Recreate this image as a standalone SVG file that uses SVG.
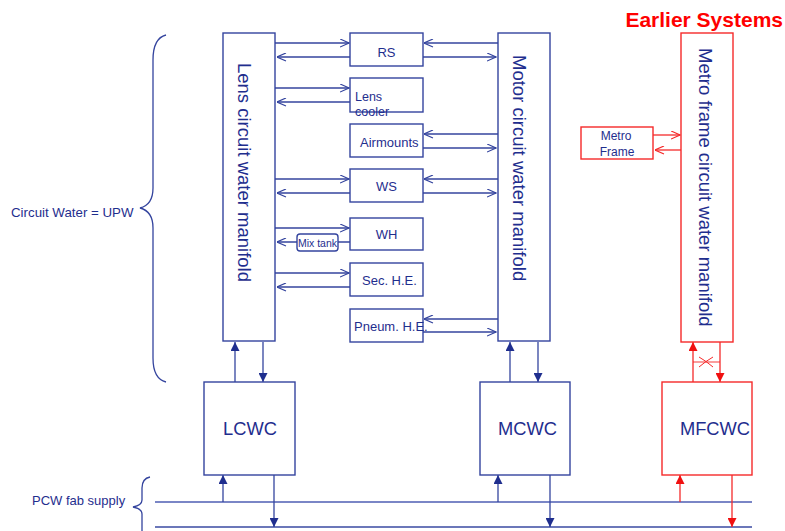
<svg xmlns="http://www.w3.org/2000/svg" width="785" height="531" viewBox="0 0 785 531">
<defs>
<style>
.b{fill:#fff;stroke:#34449e;stroke-width:1.4}
.r{fill:#fff;stroke:#f52a2a;stroke-width:1.4}
.ln{fill:none;stroke:#34449e;stroke-width:1.3}
.rl{fill:none;stroke:#f52a2a;stroke-width:1.3}
.t{font-family:"Liberation Sans",Arial,sans-serif;fill:#1f2e8e}
.oa{marker-end:url(#open)}
.fa{marker-end:url(#fill)}
.ra{marker-end:url(#rfill)}
</style>
<marker id="open" viewBox="0 0 10 10" refX="10" refY="5" markerWidth="10" markerHeight="9" markerUnits="userSpaceOnUse" orient="auto">
<path d="M0,0.5 L10,5 L0,9.5" fill="none" stroke="#34449e" stroke-width="1.3"/>
</marker>
<marker id="ropen" viewBox="0 0 10 10" refX="10" refY="5" markerWidth="10" markerHeight="9" markerUnits="userSpaceOnUse" orient="auto">
<path d="M0,0.5 L10,5 L0,9.5" fill="none" stroke="#f52a2a" stroke-width="1.3"/>
</marker>
<marker id="fill" viewBox="0 0 10 10" refX="10" refY="5" markerWidth="10" markerHeight="9" markerUnits="userSpaceOnUse" orient="auto">
<path d="M0,0 L10,5 L0,10 Z" fill="#1f2e8e"/>
</marker>
<marker id="rfill" viewBox="0 0 10 10" refX="10" refY="5" markerWidth="10" markerHeight="9" markerUnits="userSpaceOnUse" orient="auto">
<path d="M0,0 L10,5 L0,10 Z" fill="#f01010"/>
</marker>
</defs>
<rect width="785" height="531" fill="#fff"/>

<g id="connectors">
<line class="ln oa" x1="275" y1="43" x2="349" y2="43"/>
<line class="ln oa" x1="350" y1="57" x2="277" y2="57"/>
<line class="ln oa" x1="498" y1="43" x2="424" y2="43"/>
<line class="ln oa" x1="423" y1="57" x2="496" y2="57"/>
<line class="ln oa" x1="275" y1="88" x2="349" y2="88"/>
<line class="ln oa" x1="350" y1="102" x2="277" y2="102"/>
<line class="ln oa" x1="498" y1="134" x2="424" y2="134"/>
<line class="ln oa" x1="423" y1="148" x2="496" y2="148"/>
<line class="ln oa" x1="275" y1="179" x2="349" y2="179"/>
<line class="ln oa" x1="350" y1="193" x2="277" y2="193"/>
<line class="ln oa" x1="498" y1="179" x2="424" y2="179"/>
<line class="ln oa" x1="423" y1="193" x2="496" y2="193"/>
<line class="ln oa" x1="275" y1="228" x2="349" y2="228"/>
<line class="ln oa" x1="350" y1="242" x2="277" y2="242"/>
<line class="ln oa" x1="275" y1="273" x2="349" y2="273"/>
<line class="ln oa" x1="350" y1="287" x2="277" y2="287"/>
<line class="ln oa" x1="498" y1="319" x2="424" y2="319"/>
<line class="ln oa" x1="423" y1="332" x2="496" y2="332"/>
<line class="rl" x1="653" y1="135" x2="680" y2="135" marker-end="url(#ropen)"/>
<line class="rl" x1="681" y1="150" x2="655" y2="150" marker-end="url(#ropen)"/>
<line class="ln fa" x1="235" y1="382" x2="235" y2="342"/>
<line class="ln fa" x1="263" y1="342" x2="263" y2="382"/>
<line class="ln fa" x1="510" y1="382" x2="510" y2="342"/>
<line class="ln fa" x1="538" y1="342" x2="538" y2="382"/>
<line class="rl ra" x1="693" y1="382" x2="693" y2="342"/>
<line class="rl ra" x1="720" y1="342" x2="720" y2="382"/>
<line class="rl" x1="693" y1="362" x2="720" y2="362" stroke-opacity="0.7"/>
<path d="M699,357 Q706,361 713,367 M699,367 Q706,361 713,357" fill="none" stroke="#f52a2a" stroke-width="1"/>
<line x1="155" y1="502" x2="752" y2="502" stroke="#7a86c6" stroke-width="2"/>
<line x1="155" y1="527" x2="752" y2="527" stroke="#3a4aa2" stroke-width="1.6"/>
<line class="ln fa" x1="223" y1="502" x2="223" y2="475"/>
<line class="ln fa" x1="274" y1="475" x2="274" y2="527"/>
<line class="ln fa" x1="498" y1="502" x2="498" y2="475"/>
<line class="ln fa" x1="550" y1="475" x2="550" y2="527"/>
<line class="rl ra" x1="680" y1="502" x2="680" y2="475"/>
<line class="rl ra" x1="732" y1="475" x2="732" y2="527"/>
<path class="ln" d="M166,35 C158,37 153,45 153,60 L153,188 C153,200 148,206 140,208 C148,210 153,216 153,228 L153,358 C153,372 158,380 166,382"/>
<path class="ln" d="M150,477 C145,478 142,482 142,488 L142,500 C142,504 138,506 133,507 C138,508 142,510 142,514 L142,531"/>
</g>

<g id="lens-manifold">
<rect class="b" x="223" y="33" width="52" height="308"/>
<text class="t" font-size="18.5" transform="translate(238,63) rotate(90)">Lens circuit water manifold</text>
</g>
<g id="motor-manifold">
<rect class="b" x="498" y="33" width="52" height="308"/>
<text class="t" font-size="18.5" transform="translate(513,55) rotate(90)">Motor circuit water manifold</text>
</g>
<g id="metro-manifold">
<rect class="r" x="681" y="33" width="52" height="309"/>
<text class="t" font-size="18.5" transform="translate(699,48) rotate(90)">Metro frame circuit water manifold</text>
</g>

<g id="rs"><rect class="b" x="350" y="33" width="73" height="33"/><text class="t" font-size="13" x="386.5" y="57" text-anchor="middle">RS</text></g>
<g id="lens-cooler"><rect class="b" x="350" y="78" width="73" height="34"/><text class="t" font-size="12.5" x="355" y="101">Lens</text><text class="t" font-size="12.5" x="355" y="116">cooler</text></g>
<g id="airmounts"><rect class="b" x="350" y="124" width="73" height="33"/><text class="t" font-size="13" x="360" y="147">Airmounts</text></g>
<g id="ws"><rect class="b" x="350" y="169" width="73" height="33"/><text class="t" font-size="13" x="386.5" y="191" text-anchor="middle">WS</text></g>
<g id="wh"><rect class="b" x="350" y="218" width="73" height="32"/><text class="t" font-size="13" x="386.5" y="239" text-anchor="middle">WH</text></g>
<g id="mix-tank"><rect class="b" x="297" y="234" width="41" height="17" rx="3"/><text class="t" font-size="10.5" x="317.5" y="247" text-anchor="middle">Mix tank</text></g>
<g id="sec-he"><rect class="b" x="350" y="263" width="73" height="33"/><text class="t" font-size="13" x="362" y="285">Sec. H.E.</text></g>
<g id="pneum-he"><rect class="b" x="350" y="309" width="73" height="33"/><text class="t" font-size="13" x="354" y="331">Pneum. H.E.</text></g>
<g id="metro-frame"><rect class="r" x="581" y="127" width="72" height="32"/><text class="t" font-size="12" x="616" y="140" text-anchor="middle">Metro</text><text class="t" font-size="12" x="617" y="156" text-anchor="middle">Frame</text></g>

<g id="lcwc"><rect class="b" x="204" y="382" width="91" height="93"/><text class="t" font-size="18.3" x="250" y="435" text-anchor="middle">LCWC</text></g>
<g id="mcwc"><rect class="b" x="480" y="382" width="90" height="93"/><text class="t" font-size="18.3" x="527.5" y="435" text-anchor="middle">MCWC</text></g>
<g id="mfcwc"><rect class="r" x="662" y="382" width="90" height="93"/><text class="t" font-size="18.3" x="715" y="435" text-anchor="middle">MFCWC</text></g>

<g id="labels">
<text class="t" font-size="13.3" x="11" y="217">Circuit Water = UPW</text>
<text class="t" font-size="13" x="32" y="505">PCW fab supply</text>
<text font-family="Liberation Sans,Arial,sans-serif" font-weight="bold" font-size="21" fill="#ff0000" x="783" y="27" text-anchor="end">Earlier Systems</text>
</g>
</svg>
